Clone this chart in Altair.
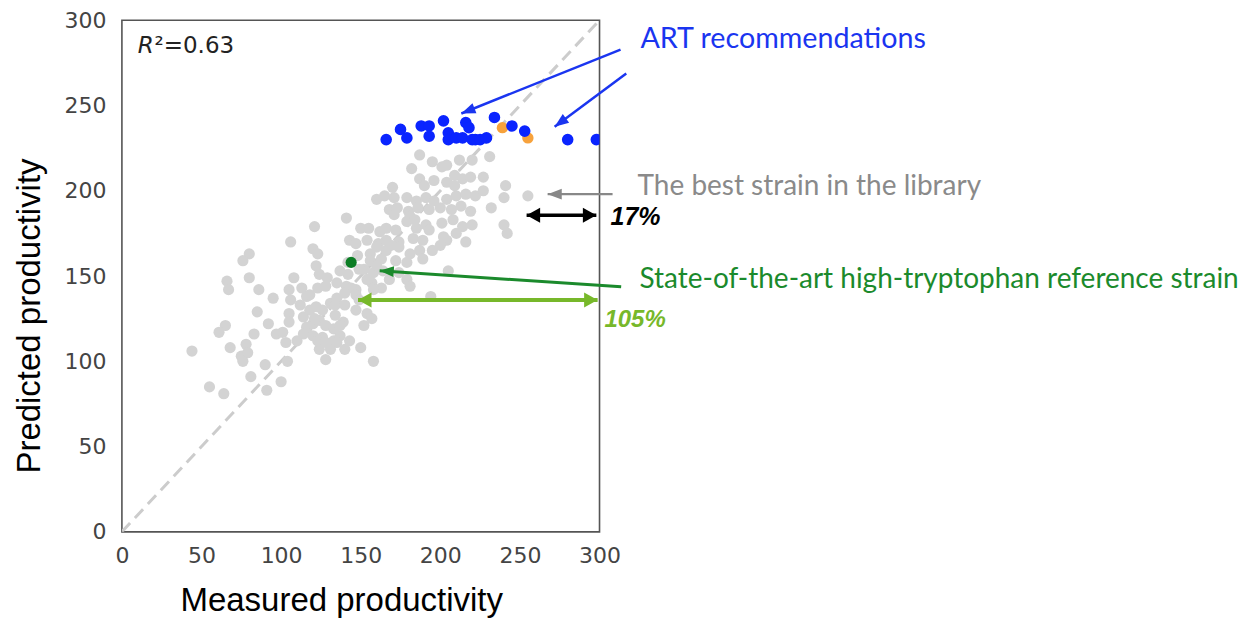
import altair as alt
import pandas as pd

# ---------------- data ----------------
gray_x = [187, 195, 201, 204, 212, 220, 231, 182, 187, 196, 204, 209, 214, 219, 227, 241, 255, 240, 232,
          170, 165, 171, 179, 160, 185, 191, 196, 204, 210, 216, 222, 227, 168, 173, 180, 186, 193, 200,
          207, 213, 219, 181, 166, 172, 179, 185, 191, 201, 208, 214, 220, 240, 242, 166, 174, 183, 189,
          202, 210, 216, 204, 141, 121, 150, 155, 162, 143, 154, 161, 166, 174, 181, 187, 195, 120, 123,
          122, 148, 156, 163, 172, 179, 189, 152, 158, 164, 168, 157, 163, 174, 179, 181, 205, 124, 129,
          135, 141, 147, 194, 106, 147, 160, 80, 76, 156, 160, 66, 67, 80, 86, 95, 108, 105, 106, 113,
          116, 123, 128, 142, 144, 140, 147, 154, 158, 85, 92, 105, 105, 114, 118, 122, 126, 131, 135,
          116, 120, 124, 128, 133, 147, 154, 139, 157, 65, 61, 83, 97, 101, 114, 120, 126, 133, 137, 103,
          110, 143, 150, 44, 68, 75, 78, 79, 76, 124, 128, 135, 131, 90, 104, 158, 81, 100, 55, 64, 91,
          118, 112, 121, 134, 137, 123, 140, 128, 134, 140, 149, 152, 137, 142, 171, 190, 209, 193, 200,
          184, 169, 149]
gray_y = [221, 217, 214, 215, 218, 218, 220, 213, 207, 206, 205, 209, 207, 208, 208, 203, 197, 196, 190,
          202, 197, 196, 196, 195, 194, 196, 194, 195, 197, 198, 197, 200, 189, 190, 188, 190, 189, 190,
          189, 191, 188, 185, 178, 177, 182, 178, 180, 181, 183, 179, 180, 180, 175, 171, 170, 172, 171,
          173, 175, 170, 171, 184, 179, 178, 178, 176, 171, 171, 169, 165, 167, 163, 165, 165, 166, 163,
          156, 162, 163, 160, 159, 158, 160, 154, 152, 153, 148, 146, 143, 152, 148, 144, 153, 151, 149,
          146, 144, 142, 138, 170, 169, 167, 163, 159, 159, 156, 147, 142, 149, 142, 137, 149, 142, 136,
          143, 138, 143, 144, 151, 143, 140, 139, 148, 142, 129, 122, 128, 123, 126, 130, 132, 130, 134,
          137, 120, 122, 124, 121, 119, 130, 128, 123, 125, 121, 117, 116, 116, 117, 116, 115, 114, 112,
          115, 111, 112, 112, 108, 106, 108, 103, 110, 105, 100, 107, 101, 111, 107, 98, 100, 100, 91,
          88, 85, 81, 83, 139, 133, 125, 127, 121, 112, 107, 111, 133, 133, 136, 121, 153, 158, 186, 203,
          203, 177, 168, 183, 168, 154]

blue_x = [166, 175, 179, 188, 193, 193, 202, 205, 205, 210, 216, 218, 214, 220, 222, 225, 229, 234,
          245, 253, 280, 298]
blue_y = [230, 236, 231, 238, 238, 232, 241, 234, 230, 231, 240, 237, 231, 230, 230, 230, 231, 243,
          238, 235, 230, 230]

orange_x = [239, 255]
orange_y = [237, 231]

reference_x = [144]
reference_y = [158]

tick_values = [0, 50, 100, 150, 200, 250, 300]
diag = [0, 300]

# arrows (data coordinates): tail x, tail y, tip x, tip y
arrow_names = ["art1", "art2", "best", "ref"]
arrow_x1 = [313.2, 316.8, 308.2, 313.6]
arrow_y1 = [282.8, 268.8, 198.0, 143.7]
arrow_x2 = [213.2, 271.8, 267.4, 161.9]
arrow_y2 = [245.3, 237.5, 198.0, 153.1]
arrow_angle = [248.4, 233.3, 270, 273.8]
arrow_color = ["#1a35f0", "#1a35f0", "#888888", "#1b8a2c"]
arrow_width = [2.5, 2.5, 2.2, 3]

# double arrows (17% and 105%)
span_x1 = [254.2, 148.3]
span_x2 = [298.0, 298.8]
span_y = [185.7, 135.9]
span_color = ["#000000", "#77b82a"]
span_width = [3.5, 4]

# ---------------- chart ----------------
W, H = 478, 512
sx = alt.Scale(domain=[0, 300], nice=False, zero=True)
sy = alt.Scale(domain=[0, 300], nice=False, zero=True)
ax_common = dict(values=tick_values, grid=False, ticks=False, domain=False, labelFlush=False,
                 labelFont="DejaVu Sans", labelFontSize=22, labelColor="#444444", title=None)


def X(field):
    return alt.X(field, type="quantitative", scale=sx, axis=alt.Axis(labelPadding=14, **ax_common))


def Y(field):
    return alt.Y(field, type="quantitative", scale=sy, axis=alt.Axis(labelPadding=16, **ax_common))


diag_df = pd.DataFrame({"x": diag, "y": diag})
diag_line = alt.Chart(diag_df).mark_line(color="#cccccc", strokeWidth=3, strokeDash=[12, 7], clip=True).encode(
    x=X("x"), y=Y("y"))

gray_df = pd.DataFrame({"x": gray_x, "y": gray_y})
gray_pts = alt.Chart(gray_df).mark_circle(color="#d3d3d3", opacity=1, size=125, clip=True).encode(x=X("x"), y=Y("y"))

green_df = pd.DataFrame({"x": reference_x, "y": reference_y})
green_pts = alt.Chart(green_df).mark_circle(color="#0b7d24", opacity=1, size=125, clip=True).encode(x=X("x"), y=Y("y"))

orange_df = pd.DataFrame({"x": orange_x, "y": orange_y})
orange_pts = alt.Chart(orange_df).mark_circle(color="#f7a23c", opacity=1, size=130, clip=True).encode(x=X("x"), y=Y("y"))

blue_df = pd.DataFrame({"x": blue_x, "y": blue_y})
blue_pts = alt.Chart(blue_df).mark_circle(color="#0a24ff", opacity=1, size=135, clip=True).encode(x=X("x"), y=Y("y"))

arrows_df = pd.DataFrame({"name": arrow_names, "x": arrow_x1, "y": arrow_y1, "x2": arrow_x2, "y2": arrow_y2,
                          "angle": arrow_angle, "color": arrow_color, "w": arrow_width})
arrow_lines = alt.Chart(arrows_df).mark_rule(clip=False).encode(
    x=X("x"), y=Y("y"), x2="x2", y2="y2",
    color=alt.Color("color:N", scale=None),
    strokeWidth=alt.StrokeWidth("w:Q", scale=None))
head_shape = "M0,0L0.55,1.45L-0.55,1.45Z"
arrow_heads = alt.Chart(arrows_df).mark_point(shape=head_shape, filled=True, opacity=1, size=380, clip=False).encode(
    x=X("x2"), y=Y("y2"),
    angle=alt.Angle("angle:Q", scale=None),
    color=alt.Color("color:N", scale=None))

span_df = pd.DataFrame({"x": span_x1, "x2": span_x2, "y": span_y, "color": span_color, "w": span_width})
span_lines = alt.Chart(span_df).mark_rule(clip=False).encode(
    x=X("x"), x2="x2", y=Y("y"),
    color=alt.Color("color:N", scale=None),
    strokeWidth=alt.StrokeWidth("w:Q", scale=None))
span_heads_df = pd.DataFrame({
    "x": span_x1 + span_x2,
    "y": span_y + span_y,
    "angle": [270, 270, 90, 90],
    "color": span_color + span_color,
})
span_shape = "M0,0L0.75,1.35L-0.75,1.35Z"
span_heads = alt.Chart(span_heads_df).mark_point(shape=span_shape, filled=True, opacity=1, size=400, clip=False).encode(
    x=X("x"), y=Y("y"),
    angle=alt.Angle("angle:Q", scale=None),
    color=alt.Color("color:N", scale=None))


def label(text, x, y, **kw):
    df = pd.DataFrame({"x": [x], "y": [y], "t": [text]})
    return alt.Chart(df).mark_text(align="left", baseline="alphabetic", clip=False, **kw).encode(
        x=X("x"), y=Y("y"), text="t:N")


r_label = label("R", 10, 280.5, font="DejaVu Sans", fontSize=23, fontStyle="italic", color="#222222")
r2_label = label("²=0.63", 20.5, 280.5, font="DejaVu Sans", fontSize=23, color="#222222")
art_label = label("ART recommendations", 325.7, 283.6, font="Lato", fontSize=28.7, color="#1a35f0")
best_label = label("The best strain in the library", 323.9, 197.5, font="Lato", fontSize=28, color="#8a8a8a")
ref_label = label("State-of-the-art high-tryptophan reference strain", 325.1, 143.0, font="Lato",
                  fontSize=28, color="#1b8a2c")
p17_label = label("17%", 306.9, 179.9, font="Liberation Sans", fontSize=25, fontWeight="bold",
                  fontStyle="italic", color="#000000")
p105_label = label("105%", 303.1, 120.1, font="Liberation Sans", fontSize=24, fontWeight="bold",
                   fontStyle="italic", color="#77b82a")

one = pd.DataFrame({"t": ["x"]})
x_title = alt.Chart(one).mark_text(text="Measured productivity", font="Liberation Sans", fontSize=33,
                                   color="#000000", align="center", baseline="alphabetic").encode(
    x=alt.value(220), y=alt.value(591))
y_title = alt.Chart(one).mark_text(text="Predicted productivity", font="Liberation Sans", fontSize=33,
                                   color="#000000", align="center", baseline="middle", angle=270).encode(
    x=alt.value(-92), y=alt.value(296))

chart = alt.layer(
    diag_line, gray_pts, green_pts, orange_pts, blue_pts,
    arrow_lines, arrow_heads, span_lines, span_heads,
    r_label, r2_label, art_label, best_label, ref_label, p17_label, p105_label,
    x_title, y_title,
).properties(
    width=W, height=H,
    background="white",
    autosize=alt.AutoSizeParams(type="none"),
    padding={"left": 114, "top": 12, "right": 648, "bottom": 92},
).configure_view(stroke="#555555", strokeWidth=1.6)

chart.save("out.html", embed_options={"renderer": "svg", "actions": False})
